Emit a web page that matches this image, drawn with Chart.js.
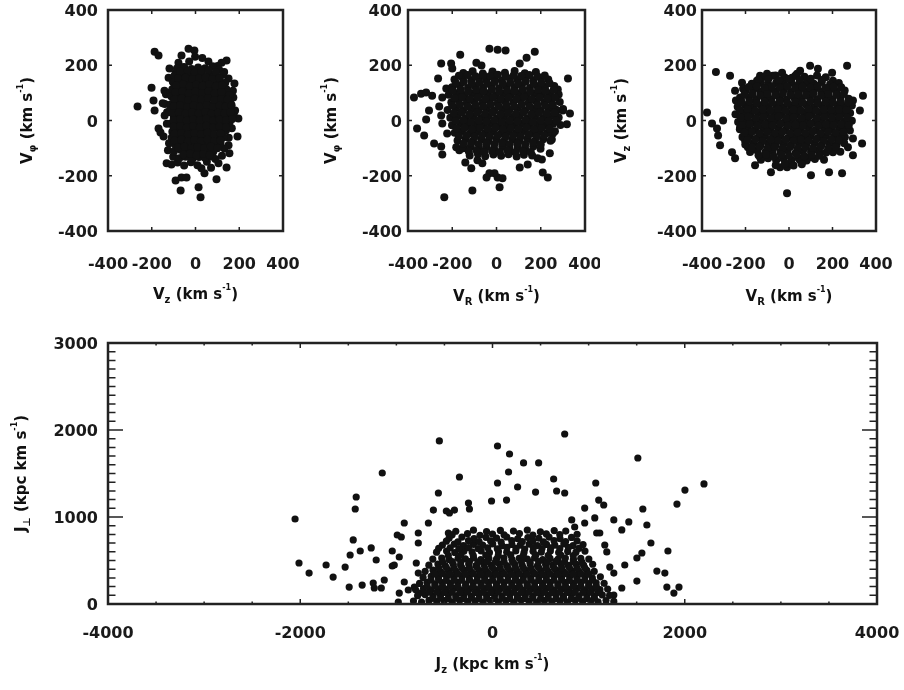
<!DOCTYPE html>
<html>
<head>
<meta charset="utf-8">
<script src="https://cdn.jsdelivr.net/npm/chart.js@4.4.0/dist/chart.umd.min.js"></script>
<style>
  body { margin: 0; background: #fff; }
  #wrap { position: relative; width: 904px; height: 690px; }
  canvas { position: absolute; }
</style>
</head>
<body>
<div id="wrap">
  <canvas id="pVzVphi" width="300" height="320" style="left:0;top:0"></canvas>
  <canvas id="pVrVphi" width="300" height="320" style="left:300px;top:0"></canvas>
  <canvas id="pVrVz" width="304" height="320" style="left:600px;top:0"></canvas>
  <canvas id="pJzJperp" width="904" height="360" style="left:0;top:330px"></canvas>
</div>
<script>
// axis ranges: [min, max, step]
var velRange = [-400, 400, 200];
var jzRange = [-4000, 4000, 2000];
var jperpRange = [0, 3000, 1000];

// panel 1: Vz (x) vs Vphi (y), km/s
var vzVphi = [
  [-265,51],[-187,249],[-169,235],[-32,260],[-5,253],[-201,119],[-192,72],[-187,36],[-169,-29],[-160,-43],
  [-132,-155],[-110,-159],[-91,-217],[-64,-206],[-41,-206],[-68,-253],[14,-242],[23,-278],[96,-213],[142,-170],
  [192,-58],[196,7],[178,134],[173,83],[142,217],[119,209],[151,-90],[155,-119],[105,-155],[41,-191],
  [27,-173],[-64,235],[-78,209],[-119,188],[-123,155],[-142,108],[-135,95],[-140,60],[-130,30],
  [-150,62],[-141,18],[-131,-12],[-146,-58],[-121,-82],[-126,-108],[-102,-131],[-82,-152],[-52,-163],[-21,-151],
  [9,-162],[52,-149],[71,-171],[91,-139],[121,-128],[132,-101],[152,-62],[166,-28],[176,28],[161,61],
  [171,108],[151,152],[131,176],[101,197],[59,214],[31,226],[-2,231],[-29,214],[-61,192],[-91,171],
  [-104,141],[-116,101],[-112,59],[-121,31],[-106,-41],
  [-85,188],[-52,194],[-18,186],[12,192],[44,189],[78,196],[108,184],
  [-96,162],[-62,168],[-28,160],[2,167],[31,163],[63,170],[94,161],[126,166],
  [-101,138],[-71,144],[-38,136],[-9,142],[22,139],[51,146],[81,135],[110,141],[136,137],
  [-106,113],[-74,118],[-44,110],[-13,117],[16,112],[47,119],[77,111],[104,116],[141,113],
  [-111,88],[-79,94],[-48,86],[-18,92],[11,89],[42,95],[71,87],[99,93],[131,88],[156,92],
  [-101,63],[-69,68],[-41,60],[-8,67],[22,62],[49,69],[82,61],[111,66],[141,63],
  [-116,38],[-84,44],[-54,36],[-23,42],[6,39],[36,45],[66,37],[94,43],[126,38],[151,42],[181,36],
  [-99,13],[-68,18],[-39,11],[-11,17],[21,12],[51,19],[79,11],[111,16],[141,13],[169,18],
  [-114,-12],[-86,-6],[-54,-14],[-26,-7],[6,-11],[34,-5],[66,-13],[96,-8],[124,-12],[156,-6],
  [-99,-37],[-71,-31],[-41,-39],[-9,-33],[19,-38],[51,-31],[79,-37],[111,-32],[139,-36],
  [-109,-62],[-81,-56],[-49,-64],[-19,-57],[11,-61],[41,-55],[69,-63],[101,-58],[129,-61],
  [-94,-87],[-66,-81],[-34,-89],[-6,-82],[26,-86],[54,-80],[86,-88],[114,-83],
  [-99,-112],[-69,-106],[-41,-114],[-9,-107],[21,-111],[49,-105],[81,-113],
  [-74,-137],[-46,-131],[-14,-139],[16,-132],[44,-136],[76,-130],
  [-70,177],[-35,180],[-3,175],[28,178],[60,181],[93,176],
  [-80,152],[-45,155],[-13,150],[17,153],[47,157],[78,150],[110,154],
  [-88,127],[-57,130],[-26,124],[3,129],[33,126],[63,131],[93,124],[122,128],
  [-92,102],[-60,105],[-30,99],[0,104],[30,100],[59,106],[88,99],[118,103],
  [-95,77],[-63,80],[-33,74],[-3,79],[27,75],[57,81],[86,74],[117,78],[146,76],
  [-100,52],[-70,55],[-38,49],[-8,54],[21,50],[52,56],[80,49],[110,53],[138,51],[165,55],
  [-106,27],[-76,30],[-46,24],[-16,29],[14,25],[44,31],[72,24],[103,28],[133,26],[160,30],
  [-100,2],[-70,5],[-40,-1],[-10,4],[20,0],[50,6],[80,-1],[110,3],[140,1],[168,5],
  [-100,-23],[-70,-20],[-40,-26],[-10,-21],[20,-25],[50,-19],[80,-26],[110,-22],[140,-24],
  [-95,-48],[-65,-45],[-35,-51],[-5,-46],[25,-50],[55,-44],[85,-51],[115,-47],
  [-95,-73],[-65,-70],[-35,-76],[-5,-71],[25,-75],[55,-69],[85,-76],[115,-72],
  [-80,-98],[-50,-95],[-20,-101],[10,-96],[40,-100],[70,-94],[100,-100],
  [-55,-123],[-25,-120],[5,-126],[35,-121],[65,-125]
];

// panel 2: VR (x) vs Vphi (y), km/s
var vrVphi = [
  [-373,83],[-341,97],[-318,101],[-291,90],[-359,-29],[-327,-54],[-318,4],[-305,36],[-282,-83],[-250,-94],
  [-245,-123],[-236,-278],[-250,206],[-205,206],[-200,188],[-264,152],[-164,238],[-32,260],[5,256],[41,253],
  [173,249],[136,227],[105,206],[323,152],[332,25],[318,-14],[277,112],[255,-47],[250,-69],[241,-119],
  [209,-188],[232,-206],[186,-137],[205,-141],[141,-159],[105,-170],[14,-242],[27,-209],[5,-206],[-9,-191],
  [-32,-191],[-45,-206],[-109,-253],[-114,-173],[-141,-152],[-86,-144],[-64,-155],[-182,-97],[-168,-108],[-223,-47],
  [-259,51],[-250,18],[-245,-11],[-227,116],[-245,83],[-91,209],[-68,199],[273,36],[300,36],[273,7],[209,126],
  [-150,172],[-108,178],[-62,170],[-18,177],[38,173],[82,179],[128,171],[178,176],
  [-190,148],[-152,154],[-114,146],[-79,152],[-46,147],[-11,153],[24,145],[61,151],[96,147],[129,154],[166,146],[201,152],[234,148],
  [-201,120],[-166,126],[-129,118],[-96,124],[-61,119],[-24,125],[11,117],[44,123],[81,120],[114,126],[151,118],[186,124],[219,121],[261,125],
  [-216,93],[-179,99],[-146,91],[-109,97],[-76,92],[-39,98],[-4,90],[31,96],[64,93],[101,99],[134,91],[171,97],[204,92],[241,98],[281,94],
  [-204,66],[-171,72],[-134,64],[-101,70],[-64,65],[-31,71],[6,63],[39,69],[76,66],[109,72],[146,64],[179,70],[216,65],[249,71],[286,67],
  [-221,38],[-184,44],[-151,36],[-114,42],[-81,37],[-44,43],[-11,35],[26,41],[59,38],[96,44],[129,36],[166,42],[199,37],[236,43],[269,39],[301,42],
  [-209,10],[-176,16],[-139,8],[-106,14],[-69,9],[-36,15],[1,7],[34,13],[71,10],[104,16],[141,8],[174,14],[211,9],[244,15],[281,11],
  [-201,-17],[-164,-11],[-131,-19],[-94,-13],[-61,-18],[-24,-12],[9,-20],[46,-14],[79,-17],[116,-11],[149,-19],[186,-13],[219,-18],[256,-12],[289,-16],
  [-189,-44],[-156,-38],[-119,-46],[-86,-40],[-49,-45],[-16,-39],[21,-47],[54,-41],[91,-44],[124,-38],[161,-46],[194,-40],[231,-45],[264,-39],
  [-176,-72],[-139,-66],[-106,-74],[-69,-68],[-36,-73],[1,-67],[34,-75],[71,-69],[104,-72],[141,-66],[174,-74],[211,-68],[244,-73],
  [-149,-100],[-116,-94],[-79,-102],[-46,-96],[-11,-101],[26,-95],[59,-103],[96,-97],[129,-100],[166,-94],[199,-102],
  [-121,-127],[-84,-121],[-51,-129],[-14,-123],[21,-128],[54,-122],[91,-130],[124,-124],[161,-127],
  [-170,162],[-130,165],[-95,160],[-60,164],[-28,161],[6,166],[42,160],[78,164],[112,161],[148,165],[185,160],[218,163],
  [-184,136],[-148,139],[-112,133],[-78,138],[-42,134],[-8,139],[28,133],[62,137],[98,134],[132,140],[168,133],[203,137],[240,135],
  [-198,108],[-162,111],[-128,105],[-92,110],[-58,106],[-22,111],[12,105],[48,109],[82,106],[118,112],[152,105],[188,110],[222,107],[258,110],
  [-190,81],[-155,84],[-120,78],[-85,83],[-50,79],[-15,84],[20,78],[55,82],[90,79],[125,85],[160,78],[195,83],[230,80],[265,83],
  [-200,54],[-165,57],[-130,51],[-95,56],[-60,52],[-25,57],[10,51],[45,55],[80,52],[115,58],[150,51],[185,56],[220,53],[255,56],
  [-192,26],[-158,29],[-122,23],[-88,28],[-52,24],[-18,29],[18,23],[52,27],[88,24],[122,30],[158,23],[192,28],[228,25],[262,28],
  [-185,-2],[-150,1],[-115,-5],[-80,0],[-45,-4],[-10,1],[25,-5],[60,-1],[95,-4],[130,2],[165,-5],[200,0],[235,-3],[270,0],
  [-180,-29],[-145,-26],[-110,-32],[-75,-27],[-40,-31],[-5,-26],[30,-32],[65,-28],[100,-31],[135,-25],[170,-32],[205,-27],[240,-30],
  [-170,-56],[-135,-53],[-100,-59],[-65,-54],[-30,-58],[5,-53],[40,-59],[75,-55],[110,-58],[145,-52],[180,-59],[215,-54],
  [-150,-84],[-115,-81],[-80,-87],[-45,-82],[-10,-86],[25,-81],[60,-87],[95,-83],[130,-86],[165,-80],[200,-87],
  [-125,-112],[-90,-109],[-55,-115],[-20,-110],[15,-114],[50,-109],[85,-115],[120,-111],[155,-114]
];

// panel 3: VR (x) vs Vz (y), km/s
var vrVz = [
  [-336,176],[-271,162],[-377,29],[-354,-11],[-331,-29],[-326,-54],[-317,-90],[-303,0],[-248,108],[-244,72],
  [-262,-115],[-248,-137],[-216,137],[-211,115],[-156,-162],[-83,-187],[-9,-263],[101,-198],[184,-187],[244,-191],
  [267,198],[340,90],[294,72],[326,36],[336,-83],[294,-126],[97,198],[133,187],[198,173],[202,144],
  [51,180],[37,169],[-9,-169],[-189,47],[-193,11],[-225,-25],[-225,83],[-147,144],[-133,162],[-101,169],
  [-74,162],[-32,173],[14,155],[280,-36],[257,-61],[294,-65],[271,-97],[202,-115],[143,-119],[97,-133],
  [51,-144],[5,-155],[-41,-169],[-101,-133],[-133,-133],[-202,-72],[-189,-97],
  [-111,158],[-62,163],[-21,157],[29,162],[71,158],[129,163],[169,157],
  [-171,133],[-129,138],[-96,131],[-59,137],[-26,132],[11,138],[44,130],[81,136],[114,133],[151,139],[189,131],[229,136],
  [-201,106],[-164,111],[-131,104],[-94,110],[-61,105],[-24,111],[9,103],[46,109],[79,106],[116,112],[149,104],[186,110],[219,105],[256,109],
  [-221,78],[-184,83],[-151,76],[-114,82],[-81,77],[-44,83],[-11,75],[26,81],[59,78],[96,84],[129,76],[166,82],[199,77],[236,83],[274,79],
  [-236,50],[-199,55],[-166,48],[-129,54],[-96,49],[-59,55],[-26,47],[11,53],[44,50],[81,56],[114,48],[151,54],[184,49],[221,55],[254,51],[289,54],
  [-246,23],[-209,28],[-176,21],[-139,27],[-106,22],[-69,28],[-36,20],[1,26],[34,23],[71,29],[104,21],[141,27],[174,22],[211,28],[244,24],[281,27],
  [-234,-5],[-201,0],[-164,-7],[-131,-1],[-94,-6],[-61,0],[-24,-8],[9,-2],[46,-5],[79,1],[116,-7],[149,-1],[186,-6],[219,0],[256,-4],[289,-1],
  [-226,-32],[-189,-27],[-156,-34],[-119,-28],[-86,-33],[-49,-27],[-16,-35],[21,-29],[54,-32],[91,-26],[124,-34],[161,-28],[194,-33],[231,-27],[264,-31],
  [-214,-60],[-181,-55],[-144,-62],[-111,-56],[-74,-61],[-41,-55],[-4,-63],[29,-57],[66,-60],[99,-54],[136,-62],[169,-56],[206,-61],[239,-55],
  [-201,-87],[-164,-82],[-131,-89],[-94,-83],[-61,-88],[-24,-82],[9,-90],[46,-84],[79,-87],[116,-81],[149,-89],[186,-83],[219,-88],[254,-82],
  [-179,-114],[-146,-109],[-109,-116],[-76,-110],[-39,-115],[-6,-109],[31,-117],[64,-111],[101,-114],[134,-108],[171,-116],[204,-110],[236,-113],
  [-129,-142],[-96,-137],[-59,-144],[-26,-138],[11,-143],[44,-137],[81,-145],[119,-139],[161,-142],
  [-61,-162],[-19,-157],[21,-163],[59,-158],
  [-140,148],[-95,150],[-45,146],[0,150],[50,147],[100,151],[150,147],
  [-185,121],[-148,124],[-112,118],[-78,123],[-42,119],[-8,124],[28,118],[62,122],[98,119],[132,125],[168,118],[205,122],[240,120],
  [-205,94],[-168,97],[-132,91],[-98,96],[-62,92],[-28,97],[8,91],[42,95],[78,92],[112,98],[148,91],[182,96],[218,93],[252,96],
  [-218,66],[-182,69],[-148,63],[-112,68],[-78,64],[-42,69],[-8,63],[28,67],[62,64],[98,70],[132,63],[168,68],[202,65],[238,68],[272,66],
  [-225,38],[-190,41],[-155,35],[-120,40],[-85,36],[-50,41],[-15,35],[20,39],[55,36],[90,42],[125,35],[160,40],[195,37],[230,40],[265,38],
  [-222,11],[-188,14],[-152,8],[-118,13],[-82,9],[-48,14],[-12,8],[22,12],[58,9],[92,15],[128,8],[162,13],[198,10],[232,13],[268,11],
  [-215,-16],[-180,-13],[-145,-19],[-110,-14],[-75,-18],[-40,-13],[-5,-19],[30,-15],[65,-18],[100,-12],[135,-19],[170,-14],[205,-17],[240,-14],[275,-16],
  [-205,-44],[-170,-41],[-135,-47],[-100,-42],[-65,-46],[-30,-41],[5,-47],[40,-43],[75,-46],[110,-40],[145,-47],[180,-42],[215,-45],[250,-42],
  [-190,-71],[-155,-68],[-120,-74],[-85,-69],[-50,-73],[-15,-68],[20,-74],[55,-70],[90,-73],[125,-67],[160,-74],[195,-69],[230,-72],
  [-170,-98],[-135,-95],[-100,-101],[-65,-96],[-30,-100],[5,-95],[40,-101],[75,-97],[110,-100],[145,-94],[180,-101],[215,-96],
  [-140,-126],[-105,-123],[-70,-129],[-35,-124],[0,-128],[35,-123],[70,-129],[105,-125],[140,-128]
];

// panel 4: Jz (x) vs Jperp (y), kpc km/s
var jzJperp = [
  [-2054,977],[-1147,1506],[-1418,1230],[-1428,1092],[-2013,471],[-1908,356],[-1731,448],[-1658,310],[-1533,425],[-1449,736],
  [-1481,563],[-1376,609],[-1262,644],[-1210,506],[-1491,195],[-1356,218],[-1241,241],[-1230,184],[-1157,184],[-1126,276],
  [-1043,437],[-1022,448],[-1043,609],[-970,540],[-991,793],[-949,770],[-918,931],[-970,126],[-980,23],[-918,253],
  [-876,161],[-772,816],[-772,701],[-793,471],[-772,356],[-813,195],[-761,126],
  [-553,1874],[-344,1460],[-563,1276],[52,1816],[177,1724],[323,1621],[480,1621],[167,1517],[52,1391],[261,1345],
  [448,1287],[636,1437],[667,1299],[751,1954],[-250,1161],[-240,1092],[-10,1184],[146,1195],[-615,1080],[-480,1069],
  [-396,1080],[-667,931],[-459,816],[-448,1046],
  [1512,1678],[2002,1310],[1919,1149],[2200,1380],[1074,1391],[751,1276],[1105,1195],[1157,1138],[1564,1092],[1606,908],
  [1418,943],[1262,966],[1345,851],[1648,701],[1825,609],[1554,586],[1502,529],[1376,448],[1710,379],[1793,356],
  [1502,264],[1345,184],[1262,103],[1814,195],[1940,195],[1887,126],[1168,678],[1189,598],[1220,425],[1262,356],
  [1084,816],[1116,816],[1064,989],[959,1103],[959,931],[855,885],[824,966],
  [-822,34],[-738,22],[-661,41],[-579,27],[-502,38],[-419,20],[-341,44],[-258,28],[-182,36],[-98,18],[-22,42],[61,25],[139,38],[222,19],
  [298,45],[381,30],[459,22],[541,40],[618,27],[702,36],[779,21],[861,43],[938,28],[1022,37],[1098,24],[1181,40],[1262,30],
  [-779,96],[-702,108],[-618,92],[-541,104],[-459,110],[-382,94],[-298,106],[-221,90],[-138,112],[-61,98],[22,104],[98,92],[181,110],
  [259,96],[342,106],[418,90],[502,112],[579,98],[661,104],[738,92],[822,108],[898,95],[981,110],[1058,93],[1142,104],[1218,99],
  [-801,166],[-718,178],[-642,162],[-559,175],[-481,168],[-398,180],[-322,160],[-238,174],[-161,165],[-78,178],[2,162],[81,176],[158,168],
  [242,181],[318,160],[402,173],[478,166],[562,179],[638,161],[722,172],[798,167],[882,180],[958,163],[1041,175],[1118,166],[1198,172],
  [-759,236],[-682,248],[-598,232],[-521,246],[-438,238],[-362,250],[-278,230],[-201,244],[-118,236],[-42,250],[41,232],[118,246],[202,238],
  [278,251],[362,231],[438,244],[522,236],[598,249],[682,233],[758,245],[842,237],[918,250],[1002,234],[1078,243],[1161,238],
  [-722,306],[-638,318],[-561,302],[-478,316],[-402,308],[-318,320],[-242,300],[-158,314],[-82,306],[2,319],[78,302],[162,315],
  [238,307],[322,320],[398,301],[482,314],[558,306],[642,318],[718,303],[802,315],[878,306],[962,319],[1038,302],[1122,312],
  [-701,376],[-618,389],[-542,372],[-458,386],[-382,378],[-298,390],[-222,370],[-138,384],[-62,376],[22,389],[98,372],[182,385],
  [258,377],[342,390],[418,371],[502,384],[578,376],[662,389],[738,373],[822,385],[898,376],[982,388],[1058,374],
  [-662,446],[-568,459],[-492,442],[-408,456],[-332,448],[-248,460],[-172,440],[-88,454],[-12,446],[72,459],[148,442],
  [232,455],[308,447],[392,460],[468,441],[552,454],[628,446],[712,459],[788,443],[872,455],[948,446],[1042,457],
  [-621,516],[-528,529],[-452,512],[-358,526],[-282,518],[-198,530],[-122,510],[-38,524],[42,516],[118,529],[202,512],
  [278,525],[362,517],[438,530],[522,511],[598,524],[682,516],[758,529],[842,513],[918,525],[1002,516],
  [-582,596],[-478,609],[-392,592],[-298,606],[-212,598],[-118,610],[-32,590],[62,604],[148,596],[242,609],[328,592],
  [422,605],[508,597],[602,610],[688,591],[782,604],[868,596],[962,608],
  [-522,676],[-398,689],[-302,672],[-198,686],[-102,678],[2,690],[98,670],[202,684],[288,676],[382,689],[468,672],
  [562,685],[648,677],[742,690],[838,671],[942,684],
  [-452,756],[-318,769],[-192,752],[-68,766],[42,758],[148,770],[262,750],[368,764],[482,756],[588,769],[702,752],[822,765],
  [-382,836],[-198,849],[-62,832],[82,846],[218,838],[362,850],[498,830],[642,844],[762,838],
  [-620,65],[-540,68],[-460,62],[-380,67],[-300,63],[-220,69],[-140,61],[-60,66],[20,63],[100,68],[180,62],[260,67],
  [340,64],[420,69],[500,61],[580,66],[660,63],[740,68],[820,62],[900,67],[980,64],[1060,66],
  [-660,135],[-580,138],[-500,132],[-420,137],[-340,133],[-260,139],[-180,131],[-100,136],[-20,133],[60,138],[140,132],[220,137],
  [300,134],[380,139],[460,131],[540,136],[620,133],[700,138],[780,132],[860,137],[940,134],[1020,136],[1100,133],
  [-680,205],[-600,208],[-520,202],[-440,207],[-360,203],[-280,209],[-200,201],[-120,206],[-40,203],[40,208],[120,202],[200,207],
  [280,204],[360,209],[440,201],[520,206],[600,203],[680,208],[760,202],[840,207],[920,204],[1000,206],[1080,203],
  [-640,275],[-560,278],[-480,272],[-400,277],[-320,273],[-240,279],[-160,271],[-80,276],[0,273],[80,278],[160,272],
  [240,277],[320,274],[400,279],[480,271],[560,276],[640,273],[720,278],[800,272],[880,277],[960,274],[1040,276],
  [-600,345],[-520,348],[-440,342],[-360,347],[-280,343],[-200,349],[-120,341],[-40,346],[40,343],[120,348],[200,342],
  [280,347],[360,344],[440,349],[520,341],[600,346],[680,343],[760,348],[840,342],[920,347],[1000,344],
  [-560,415],[-480,418],[-400,412],[-320,417],[-240,413],[-160,419],[-80,411],[0,416],[80,413],[160,418],
  [240,412],[320,417],[400,414],[480,419],[560,411],[640,416],[720,413],[800,418],[880,412],[960,416],
  [-520,485],[-420,488],[-330,482],[-240,487],[-150,483],[-60,489],[30,481],[120,486],[210,483],
  [300,488],[390,482],[480,487],[570,484],[660,489],[750,481],[840,486],[930,483],
  [-460,560],[-330,563],[-200,557],[-70,562],[60,558],[190,564],[320,556],[450,561],[580,558],[710,563],[840,557],
  [-560,640],[-440,645],[-350,636],[-250,648],[-150,638],[-50,646],[50,635],[150,650],[245,641],[335,632],[425,648],
  [515,638],[605,646],[700,636],[790,650],[900,640],
  [-480,722],[-360,715],[-250,728],[-140,718],[-20,726],[90,712],[200,730],[310,716],[420,726],[530,714],[640,728],[760,718],[880,724],
  [-420,795],[-260,808],[-130,790],[0,804],[120,796],[280,810],[420,792],[560,806],[700,798],[880,802]
];

Chart.defaults.font.family = "'DejaVu Sans', sans-serif";
Chart.defaults.font.size = 16;
Chart.defaults.font.weight = 'bold';
Chart.defaults.color = '#1a1a1a';

var ink = '#111';

// axis title with sub- and superscripts: [symbol, subscript, unit]
function titleParts(sym, sub, unit) {
  return [
    { t: sym },
    { t: sub, size: 10, dy: 5 },
    { t: ' (' + unit + ' s' },
    { t: '-1', size: 8, dy: -7 },
    { t: ')' }
  ];
}

function richText(ctx, parts, cx, cy, angle) {
  ctx.save();
  ctx.translate(cx, cy);
  ctx.rotate(angle);
  ctx.fillStyle = ink;
  ctx.textBaseline = 'middle';
  ctx.textAlign = 'left';
  var total = 0;
  parts.forEach(function(p) {
    ctx.font = "bold " + (p.size || 15) + "px 'DejaVu Sans'";
    total += ctx.measureText(p.t).width;
  });
  var x = -total / 2;
  parts.forEach(function(p) {
    ctx.font = "bold " + (p.size || 15) + "px 'DejaVu Sans'";
    ctx.fillText(p.t, x, p.dy || 0);
    x += ctx.measureText(p.t).width;
  });
  ctx.restore();
}

// box frame with inward ticks on all four sides, plus the axis titles
function makeFrame(cfg) {
  return {
    id: 'frame',
    afterDatasetsDraw: function(chart) {
      var ctx = chart.ctx, a = chart.chartArea;
      var sx = chart.scales.x, sy = chart.scales.y;
      ctx.save();
      ctx.strokeStyle = '#222';
      ctx.lineWidth = 1.5;
      ctx.beginPath();
      function tickX(v, len) {
        var p = sx.getPixelForValue(v);
        ctx.moveTo(p, a.bottom); ctx.lineTo(p, a.bottom - len);
        ctx.moveTo(p, a.top); ctx.lineTo(p, a.top + len);
      }
      function tickY(v, len) {
        var p = sy.getPixelForValue(v);
        ctx.moveTo(a.left, p); ctx.lineTo(a.left + len, p);
        ctx.moveTo(a.right, p); ctx.lineTo(a.right - len, p);
      }
      if (cfg.xMinor) for (var v = sx.min; v <= sx.max; v += cfg.xMinor) tickX(v, cfg.xLen / 2);
      if (cfg.yMinor) for (var w = sy.min; w <= sy.max; w += cfg.yMinor) tickY(w, cfg.yLen / 2);
      sx.ticks.forEach(function(t) { tickX(t.value, cfg.xLen); });
      sy.ticks.forEach(function(t) { tickY(t.value, cfg.yLen); });
      ctx.stroke();
      ctx.lineWidth = 2.5;
      ctx.strokeRect(a.left, a.top, a.right - a.left, a.bottom - a.top);
      ctx.restore();
      richText(ctx, cfg.xTitle, (a.left + a.right) / 2, cfg.xTitleY, 0);
      richText(ctx, cfg.yTitle, cfg.yTitleX, (a.top + a.bottom) / 2, -Math.PI / 2);
    }
  };
}

function makePanel(id, points, cfg) {
  var el = document.getElementById(id);
  return new Chart(el, {
    type: 'scatter',
    data: {
      datasets: [{
        data: points.map(function(p) { return { x: p[0], y: p[1] }; }),
        pointRadius: cfg.r,
        pointHoverRadius: cfg.r,
        backgroundColor: ink,
        borderWidth: 0
      }]
    },
    options: {
      responsive: false,
      animation: false,
      devicePixelRatio: 1,
      events: [],
      layout: { padding: { top: cfg.top, right: cfg.right, left: 0, bottom: 0 } },
      plugins: { legend: { display: false }, tooltip: { enabled: false } },
      scales: {
        x: {
          type: 'linear', min: cfg.x[0], max: cfg.x[1],
          grid: { display: false, drawTicks: false },
          border: { display: false },
          ticks: { stepSize: cfg.x[2], autoSkip: false, maxRotation: 0, padding: cfg.xPad,
                   callback: function(v) { return String(v); } },
          afterFit: function(s) { s.height = cfg.xAxisH; s.paddingLeft = 0; s.paddingRight = 0; }
        },
        y: {
          type: 'linear', min: cfg.y[0], max: cfg.y[1],
          grid: { display: false, drawTicks: false },
          border: { display: false },
          ticks: { stepSize: cfg.y[2], autoSkip: false, padding: cfg.yPad, labelOffset: 2,
                   callback: function(v) { return String(v); } },
          afterFit: function(s) { s.width = cfg.yAxisW; s.paddingTop = 0; s.paddingBottom = 0; }
        }
      }
    },
    plugins: [makeFrame(cfg)]
  });
}

makePanel('pVzVphi', vzVphi, {
  x: velRange, y: velRange, r: 4, top: 10, right: 17, yAxisW: 108, xAxisH: 89,
  xPad: 24, yPad: 10, xLen: 4, yLen: 4,
  xTitle: titleParts('V', 'z', 'km'), xTitleY: 295,
  yTitle: titleParts('V', 'φ', 'km'), yTitleX: 28
});
makePanel('pVrVphi', vrVphi, {
  x: velRange, y: velRange, r: 4, top: 10, right: 15, yAxisW: 108, xAxisH: 89,
  xPad: 24, yPad: 6, xLen: 4, yLen: 4,
  xTitle: titleParts('V', 'R', 'km'), xTitleY: 297,
  yTitle: titleParts('V', 'φ', 'km'), yTitleX: 32
});
makePanel('pVrVz', vrVz, {
  x: velRange, y: velRange, r: 4, top: 10, right: 28, yAxisW: 102, xAxisH: 89,
  xPad: 24, yPad: 5, xLen: 4, yLen: 4,
  xTitle: titleParts('V', 'R', 'km'), xTitleY: 297,
  yTitle: titleParts('V', 'z', 'km'), yTitleX: 22
});
makePanel('pJzJperp', jzJperp, {
  x: jzRange, y: jperpRange, r: 3.6, top: 13, right: 27, yAxisW: 108, xAxisH: 86,
  xPad: 20, yPad: 10, xLen: 5, yLen: 15, xMinor: 500, yMinor: 100,
  xTitle: titleParts('J', 'z', 'kpc km'), xTitleY: 335,
  yTitle: titleParts('J', '⊥', 'kpc km'), yTitleX: 22
});
</script>
</body>
</html>
